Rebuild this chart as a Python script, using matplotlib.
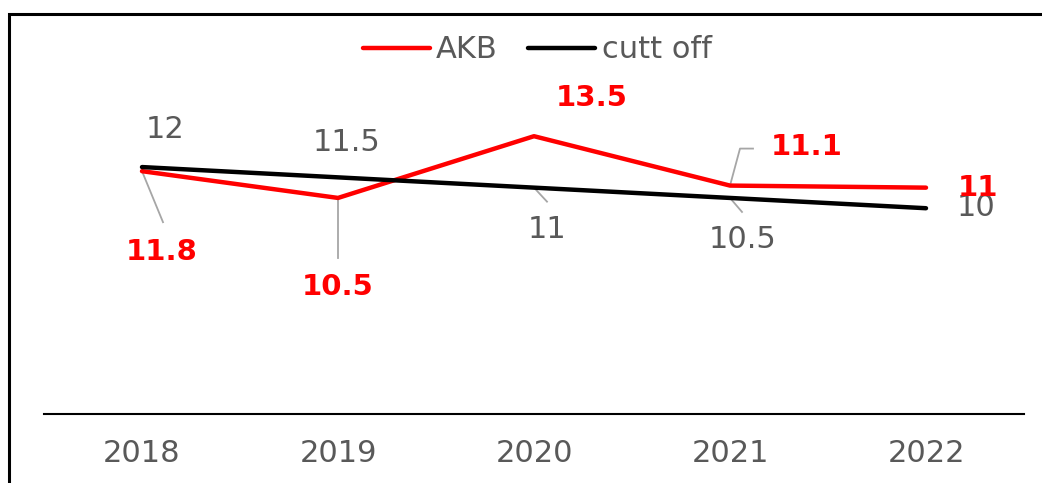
import numpy as np
import matplotlib.pyplot as plt
from matplotlib.patches import Rectangle

years = ['2018', '2019', '2020', '2021', '2022']
akb = [11.8, 10.5, 13.5, 11.1, 11]
cutoff = [12, 11.5, 11, 10.5, 10]

# label offsets in pixels (dx, dy) from each point, plus leader end if any
akb_offsets = [(20, -81), (0, -89), (58, 38), (77, 39), (52, 0)]
akb_leaders = [[(0, 0), (21, -51)], [(0, 0), (0, -60)], None,
               [(0, 0), (10, 37), (23, 37)], None]
cut_offsets = [(23, 38), (9, 35), (13, -42), (13, -42), (50, 1)]
cut_leaders = [None, None, [(0, 0), (13, -14)], [(0, 0), (12, -14)], None]

RED = '#ff0000'
GREY_TXT = '#595959'
LEADER = '#a6a6a6'

W, H = 1042, 483
fig = plt.figure(figsize=(W / 100, H / 100), dpi=100)
ax = fig.add_axes([44 / W, (H - 414) / H, 980 / W, 370.4 / H])

x = np.arange(len(years))
ax.plot(x, akb, color=RED, lw=3.2, solid_capstyle='round', label='AKB', zorder=3)
ax.plot(x, cutoff, color='black', lw=3.2, solid_capstyle='round', label='cutt off', zorder=3)

ax.set_xlim(-0.5, len(years) - 0.5)
ax.set_ylim(0, 18)
ax.set_xticks(x)
ax.set_xticklabels(years, fontsize=22, color=GREY_TXT)
ax.tick_params(axis='x', length=0, pad=18)
ax.set_yticks([])
for s in ['left', 'right', 'top']:
    ax.spines[s].set_visible(False)
ax.spines['bottom'].set_linewidth(1.5)
ax.spines['bottom'].set_color('black')


def offset_to_data(xi, yi, dx, dy):
    px, py = ax.transData.transform((xi, yi))
    return ax.transData.inverted().transform((px + dx, py + dy))


def draw_labels(values, offsets, leaders, color, weight, size):
    for i, v in enumerate(values):
        dx, dy = offsets[i]
        ax.annotate(f'{v:g}', xy=(i, v), xytext=(dx, dy), textcoords='offset pixels',
                    ha='center', va='center', fontsize=size, color=color,
                    fontweight=weight, zorder=4)
        if leaders[i]:
            pts = np.array([offset_to_data(i, v, a, b) for a, b in leaders[i]])
            ax.plot(pts[:, 0], pts[:, 1], color=LEADER, lw=1.3, zorder=2)


draw_labels(cutoff, cut_offsets, cut_leaders, GREY_TXT, 'normal', 22)
draw_labels(akb, akb_offsets, akb_leaders, RED, 'bold', 21)

fig.legend(loc='center', bbox_to_anchor=(537 / W, 1 - 50 / H), ncol=2, frameon=False,
           fontsize=22, labelcolor=GREY_TXT, handlelength=2.2, handletextpad=0.2,
           columnspacing=1.0)

# outer frame, running off the right and bottom edges
fig.patches.append(Rectangle((9 / W, -0.2), 1.5, (H - 14) / H + 0.2, transform=fig.transFigure,
                             fill=False, edgecolor='black', lw=2.2))

fig.savefig('out.png', dpi=100)
